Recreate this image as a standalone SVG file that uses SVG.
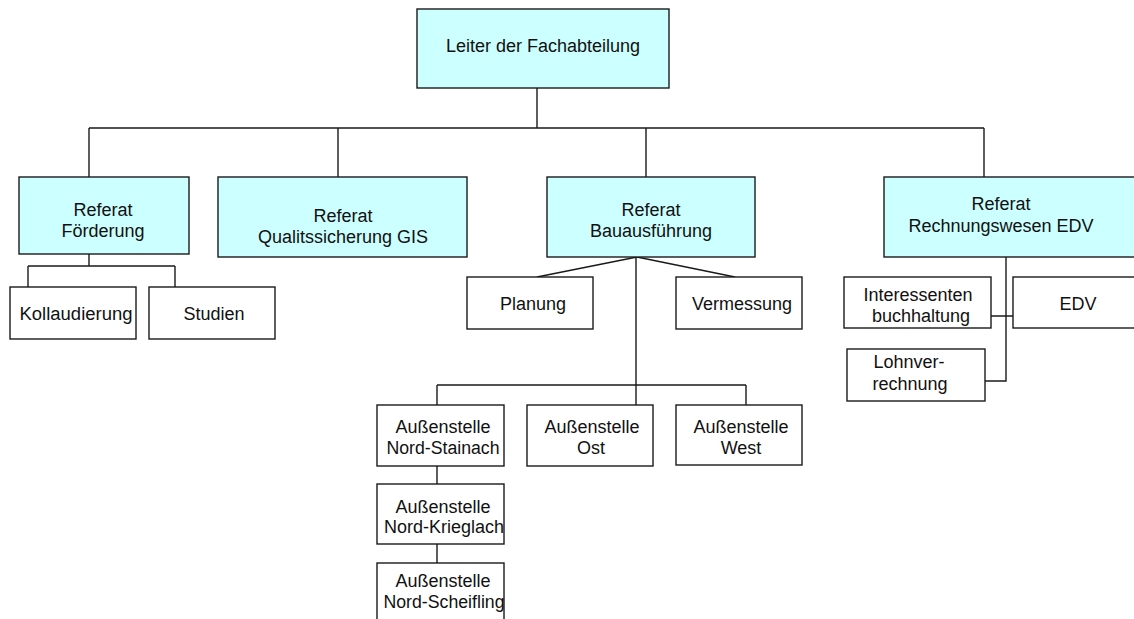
<svg xmlns="http://www.w3.org/2000/svg" width="1134" height="619" viewBox="0 0 1134 619">
<style>
.c{fill:#CCFFFF;stroke:#1a1a1a;stroke-width:1.4}
.w{fill:#FFFFFF;stroke:#1a1a1a;stroke-width:1.4}
text{font-family:"Liberation Sans",Arial,sans-serif;font-size:18px;fill:#111;text-anchor:middle}
#connectors path{fill:none;stroke:#1a1a1a;stroke-width:1.4}
</style>
<rect width="1134" height="619" fill="#FFFFFF"/>
<g id="connectors">
<path d="M537 88V128M89 128H984M89 128V177M338 128V177M646 128V177M984 128V177"/>
<path d="M89 254V266M28 266H175M28 266V287M175 266V287"/>
<path d="M637 257L537 277M637 257L735 277M636 257V405M437 385H746M437 385V405M746 385V405"/>
<path d="M437 466V484M437 544V563"/>
<path d="M1006 257V381H985M991 316H1013"/>
</g>
<g id="leiter"><rect class="c" x="417" y="9" width="252" height="79"/><text x="543" y="52">Leiter der Fachabteilung</text></g>
<g id="foerderung"><rect class="c" x="19" y="177" width="170" height="77"/><text x="103" y="216">Referat</text><text x="103" y="237">Förderung</text></g>
<g id="qualitaet"><rect class="c" x="218" y="177" width="249" height="80"/><text x="343" y="222">Referat</text><text x="343" y="243">Qualitssicherung GIS</text></g>
<g id="bau"><rect class="c" x="547" y="177" width="208" height="80"/><text x="651" y="216">Referat</text><text x="651" y="237">Bauausführung</text></g>
<g id="rechnung"><rect class="c" x="884" y="177" width="260" height="80"/><text x="1001" y="210">Referat</text><text x="1001" y="232">Rechnungswesen EDV</text></g>
<g id="kollaudierung"><rect class="w" x="10" y="287" width="126" height="52"/><text x="76" y="320" textLength="113" lengthAdjust="spacingAndGlyphs">Kollaudierung</text></g>
<g id="studien"><rect class="w" x="149" y="287" width="126" height="52"/><text x="214" y="320">Studien</text></g>
<g id="planung"><rect class="w" x="467" y="277" width="126" height="52"/><text x="533" y="310">Planung</text></g>
<g id="vermessung"><rect class="w" x="676" y="277" width="126" height="52"/><text x="742" y="310">Vermessung</text></g>
<g id="interessenten"><rect class="w" x="844" y="277" width="147" height="51"/><text x="918" y="301">Interessenten</text><text x="921" y="322">buchhaltung</text></g>
<g id="edv"><rect class="w" x="1013" y="277" width="140" height="51"/><text x="1078" y="310">EDV</text></g>
<g id="lohn"><rect class="w" x="847" y="349" width="138" height="52"/><text x="909" y="368">Lohnver-</text><text x="910" y="390">rechnung</text></g>
<g id="stainach"><rect class="w" x="377" y="405" width="127" height="61"/><text x="443" y="433">Außenstelle</text><text x="443" y="454" textLength="113" lengthAdjust="spacingAndGlyphs">Nord-Stainach</text></g>
<g id="ost"><rect class="w" x="527" y="405" width="126" height="61"/><text x="592" y="433">Außenstelle</text><text x="591" y="454">Ost</text></g>
<g id="west"><rect class="w" x="676" y="405" width="126" height="60"/><text x="741" y="433">Außenstelle</text><text x="741" y="454">West</text></g>
<g id="krieglach"><rect class="w" x="377" y="484" width="127" height="60"/><text x="443" y="513">Außenstelle</text><text x="444" y="533" textLength="120" lengthAdjust="spacingAndGlyphs">Nord-Krieglach</text></g>
<g id="scheifling"><rect class="w" x="377" y="563" width="127" height="70"/><text x="443" y="587">Außenstelle</text><text x="444" y="608" textLength="121" lengthAdjust="spacingAndGlyphs">Nord-Scheifling</text></g>
</svg>
